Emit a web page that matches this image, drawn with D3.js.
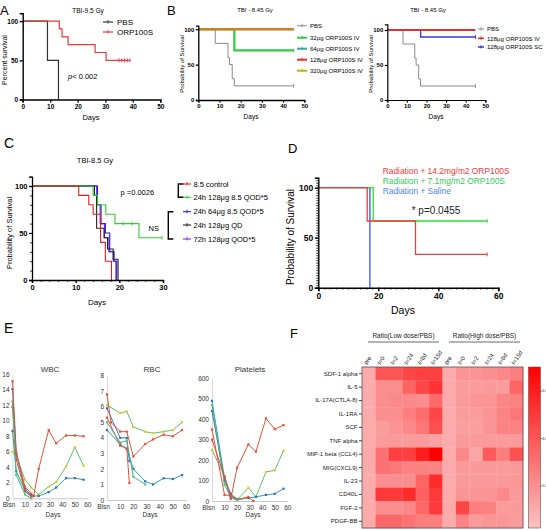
<!DOCTYPE html>
<html><head><meta charset="utf-8">
<script src="https://cdn.jsdelivr.net/npm/d3@7"></script>
<style>body{margin:0;background:#fff}svg{display:block}</style>
</head><body><svg id="c" width="546" height="530"></svg>
<script>
const FONT = '"Liberation Sans", Arial, Helvetica, sans-serif';

// ---------- Panel A data ----------
const A_pbs = [[0,100],[9,50],[13,0]];
const A_orp = [[0,100],[13.3,90],[14.3,80],[16.5,70],[26.3,60],[30.3,50],[39,50]];
const A_orpCensor = [35,36,37,38,39];
const A_legend = ["PBS","ORP100S"];

// ---------- Panel B data ----------
const B_pbs = [[0,100],[8,80],[14,60],[14.7,50],[16,30],[17,20],[45,20]];
const B_32 = [[0,100],[17,70],[45,70]];
const B_64 = [[0,100],[45,100]];
const B_128 = [[0,100],[45,100]];
const B_320 = [[0,100],[45,100]];
const B_legend = ["PBS","32μg ORP100S IV","64μg ORP100S IV","128μg ORP100S IV","320μg ORP100S IV"];
const B2_iv = [[0,100],[45,100]];
const B2_sc = [[0,100],[17,90],[45,90]];
const B2_legend = ["PBS","128μg ORP100S IV","128μg ORP100S SC"];

// ---------- Panel C data ----------
const C_control = [[0,100],[10.7,90],[13,80],[14,70],[15.7,40],[16.8,20],[18.2,0]];
const C_qod128 = [[0,100],[14,90],[15,80],[16.9,70],[19,60],[24.5,45],[29.8,45]];
const C_qod128Censor = [[20.9,60],[22.9,60],[29.8,45]];
const C_qod64 = [[0,100],[15,80],[15.8,60],[16.8,50],[17.8,30],[18.8,20],[19.4,0]];
const C_qd128 = [[0,100],[14.3,90],[14.8,55],[16.5,45],[17.3,33],[18.6,22],[19.7,0]];
const C_72h = [[0,100],[14.8,80],[15.6,60],[16.6,45],[17.6,30],[18.6,20],[19.2,0]];
const C_legend = ["8.5 control","24h 128μg 8.5 QOD*5","24h 64μg 8.5 QOD*5","24h 128μg QD","72h 128μg QOD*5"];

// ---------- Panel D data ----------
const D_high = [[0,100],[16.3,66.7],[32.4,33.3],[56.3,33.3]];
const D_low = [[0,100],[18.3,66.7],[56.3,66.7]];
const D_saline = [[0,100],[17.2,0]];
const D_legend = ["Radiation + 14.2mg/m2 ORP100S","Radiation + 7.1mg/m2 ORP100S","Radiation + Saline"];

// ---------- Panel E data ----------
const E_wbc = [
  [[0,6.0],[3,5.5],[10,2.4],[15,1.4],[21,0.5],[29,1.5],[35,2.1],[43,4.1],[50,6.6],[57,4.2]],
  [[0,8.7],[3,3.5],[10,1.0],[15,0.3],[21,0.3],[29,0.8],[35,1.4],[43,2.6],[50,2.6],[57,2.4]],
  [[0,14.1],[3,5.7],[10,1.2],[15,0.4],[17,0.3]],
  [[0,11.8],[3,5.0],[10,0.9],[15,0.2]],
  [[0,12.5],[3,3.0],[10,0.5],[15,0.0]],
  [[0,15.1],[3,6.0],[10,1.5],[15,0.6],[17,0.3],[21,3.8],[29,8.8],[35,7.1],[43,8.1],[50,8.1],[57,8.0]]
];
const E_rbc = [
  [[0,6.1],[10,5.6],[15,5.7],[20,4.7],[29,4.4],[35,4.3],[43,4.4],[50,4.5],[57,5.0]],
  [[0,4.5],[10,3.6],[15,3.3],[20,2.0],[29,1.2],[35,1.0],[43,1.4],[50,1.35],[57,1.6]],
  [[0,5.9],[10,4.0],[15,4.0],[17,2.5]],
  [[0,5.3],[10,3.5],[15,3.3],[17,1.1]],
  [[0,5.0],[10,3.7],[15,3.8],[20,1.5],[29,1.0]],
  [[0,6.8],[3,5.0],[10,4.4],[15,4.4],[20,2.8],[29,3.6],[35,3.9],[43,4.2],[50,4.1],[57,4.5]]
];
const E_plt = [
  [[0,250],[10,120],[15,30],[20,5],[29,65],[35,20],[43,142],[50,150],[57,246]],
  [[0,490],[10,110],[15,20],[20,5],[29,15],[35,20],[43,30],[50,35],[57,60]],
  [[0,440],[10,100],[15,35],[20,10]],
  [[0,350],[10,30],[15,25],[20,8],[29,20],[33,0]],
  [[0,470],[10,80],[15,15],[20,5]],
  [[0,300],[10,120],[15,10],[20,163],[29,277],[35,241],[43,404],[50,351],[57,371]]
];
const E_lineColors = ["#5cbf6f","#2fa39a","#3b7dc8","#e0533a","#44b38a","#e0533a"];
const E_markColors = ["#f0c419","#2f6fc0","#2f6fc0","#e0533a","#5cbf6f","#e0533a"];

// ---------- Panel F data ----------
const F_rows = ["SDF-1 alpha","IL-5","IL-17A(CTLA-8)","IL-1RA","SCF","TNF alpha","MIP-1 beta (CCL4)","MIG(CXCL9)","IL-23","CD40L","FGF-2","PDGF-BB"];
const F_cols = ["pre","t=0","t=2","t=24","t=8d","t=15d","pre ","t=0 ","t=2 ","t=24 ","t=8d ","t=15d "];
const F_colLabels = ["pre","t=0","t=2","t=24","t=8d","t=15d","pre","t=0","t=2","t=24","t=8d","t=15d"];
const F_values = [
  [1,4.0,4.0,4.5,4.8,4.8, 1,1.8,1.8,2.0,2.2,2.6],
  [1,2.0,2.0,3.5,4.5,5.2, 1,1.5,1.5,1.6,1.5,3.5],
  [1,2.0,2.2,2.2,2.0,3.3, 1,1.6,1.8,1.8,2.3,2.5],
  [1,2.0,2.0,2.6,3.2,4.5, 1,1.5,1.5,1.8,2.4,2.8],
  [1,1.5,1.8,2.2,2.8,4.2, 1,1.4,1.4,1.8,2.4,2.4],
  [1,1.6,1.6,1.6,1.6,1.3, 1,1.6,1.6,1.6,1.6,1.6],
  [1,3.0,4.8,4.8,6.0,7.0, 1,2.2,1.2,3.8,2.6,4.2],
  [1,3.0,2.8,2.5,2.5,2.4, 1,1.6,1.6,1.6,1.6,1.6],
  [1,2.0,2.0,2.0,3.5,5.5, 1,1.6,1.6,1.6,1.6,1.7],
  [1,5.0,5.0,5.5,3.6,5.0, 1,1.8,1.8,1.8,2.2,1.6],
  [1,2.0,2.0,2.2,3.4,5.0, 1,4.5,2.6,2.5,1.6,1.6],
  [1,3.4,3.4,3.0,2.6,2.6, 1,2.4,1.6,1.8,1.8,1.6]
];
const F_groups = ["Ratio(Low dose/PBS)","Ratio(High dose/PBS)"];
const F_barTicks = [2,4,6];

// ================= drawing =================
const svg = d3.select("#c");
svg.append("rect").attr("width",546).attr("height",530).attr("fill","#fff");

function txt(g, x, y, s, o={}) {
  const t = g.append("text").attr("x",x).attr("y",y).text(s)
    .attr("font-family",FONT).attr("font-size",o.fs||8).attr("fill",o.fill||"#000")
    .attr("text-anchor",o.anchor||"start").attr("font-weight",o.bold?"bold":"normal");
  if (o.rot) t.attr("transform",`rotate(${o.rot},${x},${y})`);
  return t;
}
function styleAxis(a, o) {
  a.selectAll("text").attr("font-family",FONT).attr("font-size",o.fs).attr("font-weight",o.bold?"bold":"normal").attr("fill",o.tc||"#000");
  a.select(".domain").attr("stroke",o.color||"#000").attr("stroke-width",o.sw||1);
  a.selectAll(".tick line").attr("stroke",o.color||"#000").attr("stroke-width",o.sw||1);
  if (o.noDomain) a.select(".domain").remove();
}
function survAxes(g, x, y, xt, yt, o) {
  const ax = g.append("g").attr("transform",`translate(0,${y.range()[0]})`)
    .call(d3.axisBottom(x).tickValues(xt).tickSize(o.ts||3).tickPadding(o.tp||1.5));
  styleAxis(ax,{fs:o.fs,bold:true,sw:o.sw});
  const ay = g.append("g").attr("transform",`translate(${x.range()[0]},0)`)
    .call(d3.axisLeft(y).tickValues(yt).tickSize(o.ts||3).tickPadding(o.tp||1.5));
  styleAxis(ay,{fs:o.fs,bold:true,sw:o.sw});
  if (o.minorX) {
    const m = g.append("g").attr("transform",`translate(0,${y.range()[0]})`).call(d3.axisBottom(x).tickValues(o.minorX).tickSize(o.mts||2).tickFormat(""));
    styleAxis(m,{fs:1,sw:o.msw||0.8,noDomain:true});
  }
  if (o.minorY) {
    const m = g.append("g").attr("transform",`translate(${x.range()[0]},0)`).call(d3.axisLeft(y).tickValues(o.minorY).tickSize(o.mts||2).tickFormat(""));
    styleAxis(m,{fs:1,sw:o.msw||0.8,noDomain:true});
  }
}
function surv(g, x, y, pts, color, w, op, cens) {
  g.append("path").datum(pts)
    .attr("d", d3.line().x(d=>x(d[0])).y(d=>y(d[1])).curve(d3.curveStepAfter))
    .attr("fill","none").attr("stroke",color).attr("stroke-width",w||1.2).attr("opacity",op==null?1:op);
  (cens||[]).forEach(c=>{
    g.append("line").attr("x1",x(c[0])).attr("x2",x(c[0])).attr("y1",y(c[1])-2).attr("y2",y(c[1])+2)
      .attr("stroke",color).attr("stroke-width",0.9);
  });
}
function legLine(g, x1, x2, y, color, w) {
  g.append("line").attr("x1",x1).attr("x2",x2).attr("y1",y).attr("y2",y).attr("stroke",color).attr("stroke-width",w||1.2);
  g.append("line").attr("x1",(x1+x2)/2).attr("x2",(x1+x2)/2).attr("y1",y-2).attr("y2",y+1.5).attr("stroke",color).attr("stroke-width",0.9);
}

// ---------- Panel A ----------
{
  const g = svg.append("g");
  txt(g,0,15,"A",{fs:13});
  txt(g,88,13,"TBI-9.5 Gy",{fs:6.5,anchor:"middle"});
  const x = d3.scaleLinear([0,50],[22.7,160.3]);
  const y = d3.scaleLinear([0,110],[99.5,13.3]);
  surv(g,x,y,A_pbs,"#333",1.2);
  surv(g,x,y,A_orp,"#e03c3c",1.2,1,A_orpCensor.map(d=>[d,50]));
  survAxes(g,x,y,d3.range(0,51,10),[0,50,100],{fs:6.5,sw:1.4,ts:3});
  txt(g,91,120,"Days",{fs:7.5,anchor:"middle"});
  txt(g,7,60,"Percent survival",{fs:7,anchor:"middle",rot:-90});
  legLine(g,103,113,22,"#333");
  txt(g,117,25,A_legend[0],{fs:8});
  legLine(g,103,113,32,"#e03c3c");
  txt(g,117,35,A_legend[1],{fs:8});
  const p = txt(g,68,79,"",{fs:7.5});
  p.append("tspan").attr("font-style","italic").text("p");
  p.append("tspan").text("< 0.002");
}

// ---------- Panel B ----------
{
  const g = svg.append("g");
  txt(g,167,15,"B",{fs:13});
  txt(g,255,12,"TBI - 8.45 Gy",{fs:6,anchor:"middle"});
  const x = d3.scaleLinear([0,50],[198.3,304.3]);
  const y = d3.scaleLinear([0,105],[100,25.7]);
  surv(g,x,y,B_pbs,"#8a8a8a",1,1,[[45,20]]);
  surv(g,x,y,B_64,"#3aa6a6",2);
  surv(g,x,y,B_32,"#2ecc40",2.2,1,[[45,70]]);
  surv(g,x,y,B_128,"#e03030",2.2);
  surv(g,x,y,B_320,"#c8c800",2.2,0.55);
  survAxes(g,x,y,d3.range(0,51,10),[0,50,100],{fs:6,sw:1.3,ts:2.5});
  txt(g,251,119,"Days",{fs:6.5,anchor:"middle"});
  txt(g,184,64,"Probability of Survival",{fs:6,anchor:"middle",rot:-90});
  const cols = ["#8a8a8a","#2ecc40","#3aa6a6","#e03030","#b8b800"];
  const ys = [25.7,37.7,48.7,59.7,70.7];
  B_legend.forEach((s,i)=>{ legLine(g,297,307,ys[i],cols[i],i?2:1); txt(g,310,ys[i]+2.2,s,{fs:6}); });

  txt(g,428,12,"TBI - 8.45 Gy",{fs:6,anchor:"middle"});
  const x2 = d3.scaleLinear([0,50],[387.3,485.3]);
  const y2 = d3.scaleLinear([0,108],[100,24.4]);
  surv(g,x2,y2,B_pbs,"#8a8a8a",1,1,[[45,20]]);
  surv(g,x2,y2,B2_sc,"#3a3ad0",1.3,1,[[45,90]]);
  surv(g,x2,y2,B2_iv,"#e03030",2);
  survAxes(g,x2,y2,d3.range(0,51,10),[0,50,100],{fs:6,sw:1.2,ts:2.5});
  txt(g,436,119,"Days",{fs:6.5,anchor:"middle"});
  txt(g,373,64,"Probability of Survival",{fs:6,anchor:"middle",rot:-90});
  const cols2 = ["#8a8a8a","#e03030","#3a3ad0"];
  const ys2 = [29,38.3,47];
  B2_legend.forEach((s,i)=>{ legLine(g,478,484,ys2[i],cols2[i],i?1.6:1); txt(g,487,ys2[i]+2.2,s,{fs:6}); });
}

// ---------- Panel C ----------
{
  const g = svg.append("g");
  txt(g,4,148,"C",{fs:14});
  txt(g,95,163,"TBI-8.5 Gy",{fs:7.5,anchor:"middle"});
  const x = d3.scaleLinear([0,30],[32,163]);
  const y = d3.scaleLinear([0,110],[280,176.6]);
  surv(g,x,y,C_72h,"#8a2be2",1.1);
  surv(g,x,y,C_qod64,"#1f1fe0",1.1);
  surv(g,x,y,C_qd128,"#222",1.1);
  surv(g,x,y,C_qod128,"#33cc33",1.1,1,C_qod128Censor);
  surv(g,x,y,C_control,"#e82020",1.1);
  survAxes(g,x,y,[0,10,20,30],[0,50,100],{fs:7.5,sw:1.3,ts:3,minorY:d3.range(0,111,10),minorX:d3.range(0,31,2)});
  txt(g,97,305,"Days",{fs:8,anchor:"middle"});
  txt(g,12,233,"Probability of Survival",{fs:7.5,anchor:"middle",rot:-90});
  txt(g,120.5,195,"p =0.0026",{fs:7.5});
  txt(g,148.5,231,"NS",{fs:7.5});
  const cols = ["#e82020","#33cc33","#1f1fe0","#222","#8a2be2"];
  const ys = [184,197.3,211.7,225,239];
  C_legend.forEach((s,i)=>{ legLine(g,183,191,ys[i],cols[i],1.1); txt(g,193.5,ys[i]+2.7,s,{fs:7.5}); });
  const br = (x0,y0,y1)=> g.append("path").attr("d",`M${x0+5},${y0}H${x0}V${y1}H${x0+5}`).attr("fill","none").attr("stroke","#000").attr("stroke-width",1.4);
  br(178.3,184,197.3);
  br(168.3,211.7,239);
}

// ---------- Panel D ----------
{
  const g = svg.append("g");
  txt(g,288,153,"D",{fs:13});
  const x = d3.scaleLinear([0,60],[318.3,498.3]);
  const y = d3.scaleLinear([0,110],[287.7,177.7]);
  surv(g,x,y,D_saline,"#3355ee",1.3);
  surv(g,x,y,D_low,"#33dd33",1.3,1,[[56.3,66.7]]);
  surv(g,x,y,D_high,"#f03c3c",1.3,1,[[56.3,33.3]]);
  survAxes(g,x,y,[0,20,40,60],[0,50,100],{fs:8.5,sw:1.4,ts:3.5,minorX:d3.range(0,61,2),minorY:d3.range(0,111,2.5),mts:2});
  txt(g,403,314,"Days",{fs:10.5,anchor:"middle"});
  txt(g,294,237,"Probability of Survival",{fs:10,anchor:"middle",rot:-90});
  const cols = ["#ee3b3b","#2fcc55","#4a86e8"];
  const ys = [174,184,193.5];
  D_legend.forEach((s,i)=> txt(g,382.7,ys[i],s,{fs:8.4,fill:cols[i]}));
  txt(g,411.7,214,"* p=0.0455",{fs:10,fill:"#222"});
}

// ---------- Panel E ----------
function eChart(g, data, cfg) {
  const x = d3.scaleLinear([0,60],cfg.xr);
  const y = d3.scaleLinear([0,cfg.ymax],cfg.yr);
  const ax = g.append("g").attr("transform",`translate(0,${cfg.yr[0]})`)
    .call(d3.axisBottom(x).tickValues([0,10,20,30,40,50,60]).tickSize(0).tickPadding(4).tickFormat(d=>d===0?"Blsn":d));
  styleAxis(ax,{fs:6.5,color:"#c8c8c8",tc:"#333"});
  ax.selectAll(".tick text").filter(d=>d===0).attr("dx",-4);
  const ay = g.append("g").attr("transform",`translate(${cfg.xr[0]},0)`)
    .call(d3.axisLeft(y).tickValues(cfg.yt).tickSize(0).tickPadding(3));
  styleAxis(ay,{fs:6.5,color:"#d8d8d8",tc:"#333"});
  txt(g,cfg.tx,372,cfg.title,{fs:8,anchor:"middle",fill:"#333"});
  txt(g,cfg.dx,517,"Days",{fs:6.5,anchor:"middle",fill:"#333"});
  data.forEach((s,i)=>{
    g.append("path").datum(s).attr("d",d3.line().x(d=>x(d[0])).y(d=>y(d[1])))
      .attr("fill","none").attr("stroke",E_lineColors[i]).attr("stroke-width",1);
    g.selectAll(null).data(s).join("rect")
      .attr("x",d=>x(d[0])-1.1).attr("y",d=>y(d[1])-1.1).attr("width",2.2).attr("height",2.2)
      .attr("fill",E_markColors[i]);
  });
}
{
  const g = svg.append("g");
  txt(g,4,333,"E",{fs:14});
  eChart(g,E_wbc,{xr:[12.5,87.3],yr:[498.3,374.3],ymax:16,yt:d3.range(0,17,2),title:"WBC",tx:50,dx:53});
  eChart(g,E_rbc,{xr:[107,186],yr:[500,375.7],ymax:8,yt:d3.range(0,9,1),title:"RBC",tx:152,dx:150});
  eChart(g,E_plt,{xr:[212,287.3],yr:[501,378.3],ymax:600,yt:d3.range(0,601,100),title:"Platelets",tx:250,dx:253});
}

// ---------- Panel F ----------
{
  const g = svg.append("g");
  txt(g,290,338,"F",{fs:13});
  const x = d3.scaleBand(F_cols,[362,523]);
  const y = d3.scaleBand(F_rows,[367,528]);
  const color = d3.scaleLinear([0,7],["#fac8c8","#ff0000"]);
  F_rows.forEach((r,i)=>F_cols.forEach((c,j)=>{
    g.append("rect").attr("x",x(c)).attr("y",y(r)).attr("width",x.bandwidth()+0.3).attr("height",y.bandwidth()+0.3)
      .attr("fill",color(F_values[i][j]));
  }));
  g.append("rect").attr("x",362).attr("y",367).attr("width",161).attr("height",161).attr("fill","none").attr("stroke","#555").attr("stroke-width",0.8);
  const ay = g.append("g").attr("transform","translate(362,0)").call(d3.axisLeft(y).tickSize(3).tickPadding(1.5));
  styleAxis(ay,{fs:6,color:"#444",tc:"#222",noDomain:true});
  F_cols.forEach((c,j)=>{
    txt(g,x(c)+x.bandwidth()/2-2,365,F_colLabels[j],{fs:6,rot:-55,fill:"#222"});
  });
  const gx = [[368,439],[449,520]];
  F_groups.forEach((s,i)=>{
    txt(g,(gx[i][0]+gx[i][1])/2,338,s,{fs:6.5,anchor:"middle",fill:"#222"});
    g.append("line").attr("x1",gx[i][0]).attr("x2",gx[i][1]).attr("y1",342).attr("y2",342).attr("stroke","#444").attr("stroke-width",0.8);
  });
  // colour bar
  const defs = svg.append("defs");
  const lg = defs.append("linearGradient").attr("id","cb").attr("x1",0).attr("x2",0).attr("y1",1).attr("y2",0);
  lg.append("stop").attr("offset","0%").attr("stop-color",color(0.2));
  lg.append("stop").attr("offset","100%").attr("stop-color",color(7));
  const cy = d3.scaleLinear([0.2,7],[528,367]);
  g.append("rect").attr("x",528.5).attr("y",367).attr("width",12).attr("height",161).attr("fill","url(#cb)").attr("stroke","#555").attr("stroke-width",0.6);
  const ac = g.append("g").attr("transform","translate(540.5,0)").call(d3.axisRight(cy).tickValues(F_barTicks).tickSize(1.2).tickPadding(0.6));
  styleAxis(ac,{fs:3.6,color:"#444",tc:"#333",noDomain:true});
}
</script></body></html>
